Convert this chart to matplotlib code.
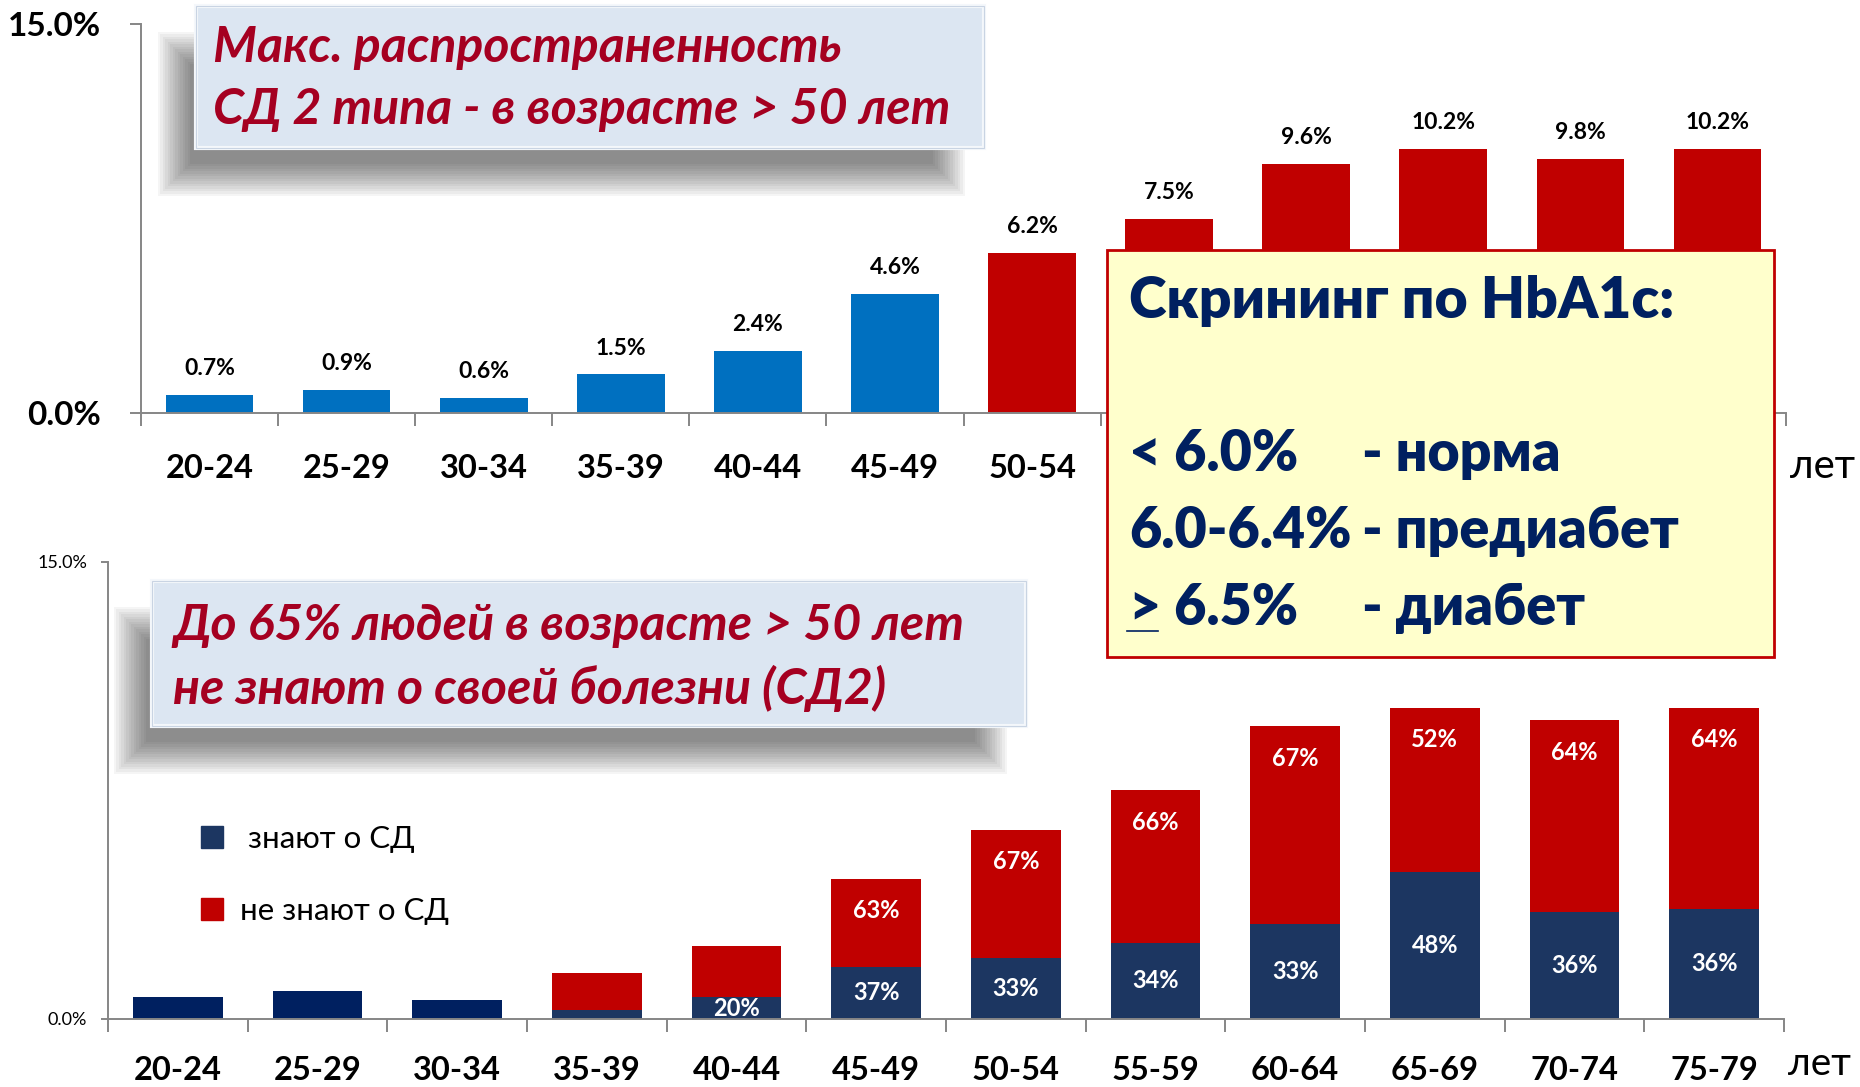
import numpy as np
import matplotlib.pyplot as plt
from matplotlib.patches import Rectangle, Patch

plt.rcParams['font.family'] = ['Lato', 'Open Sans', 'DejaVu Sans']

W, H = 1860, 1087

# data
age_groups = ['20-24', '25-29', '30-34', '35-39', '40-44', '45-49',
              '50-54', '55-59', '60-64', '65-69', '70-74', '75-79']
age_start = [20, 25, 30, 35, 40, 45, 50, 55, 60, 65, 70, 75]
prevalence = [0.7, 0.9, 0.6, 1.5, 2.4, 4.6, 6.2, 7.5, 9.6, 10.2, 9.8, 10.2]
# bottom chart: height of the "know about diabetes" part
known = [0.7, 0.9, 0.6, 0.3, 0.7, 1.7, 2.0, 2.5, 3.1, 4.8, 3.5, 3.6]
known_pct = ['', '', '', '', '20%', '37%', '33%', '34%', '33%', '48%', '36%', '36%']
unknown_pct = ['', '', '', '', '', '63%', '67%', '66%', '67%', '52%', '64%', '64%']

BLUE = '#0070C0'
RED = '#C00000'
NAVY = '#002060'
KNOWN = '#1C3661'
AXIS = '#868686'
DARKRED = '#A50021'

x = np.arange(len(age_groups))
unknown = [p - k for p, k in zip(prevalence, known)]

fig = plt.figure(figsize=(W / 100, H / 100), dpi=100)


def style_axes(ax, ylab_size, ylab_weight, ypad, ylen, xpad):
    ax.set_xlim(-0.5, len(age_groups) - 0.5)
    ax.set_ylim(0, 15)
    for s in ['top', 'right']:
        ax.spines[s].set_visible(False)
    for s in ['left', 'bottom']:
        ax.spines[s].set_color(AXIS)
        ax.spines[s].set_linewidth(1.4)
    ax.set_yticks([0, 15])
    ax.set_yticklabels(['0.0%', '15.0%'], fontsize=ylab_size, fontweight=ylab_weight)
    ax.tick_params(axis='y', length=ylen, width=1.4, color=AXIS, pad=ypad)
    ax.set_xticks(x)
    ax.set_xticklabels(age_groups, fontsize=23.5, fontweight='bold')
    ax.set_xticks(np.arange(-0.5, len(age_groups)), minor=True)
    ax.tick_params(axis='x', which='major', length=0, pad=xpad)
    ax.tick_params(axis='x', which='minor', length=9, width=1.4, color=AXIS)


# top chart: prevalence
ax1 = fig.add_axes([141 / W, 1 - 413.3 / H, (1786 - 141) / W, (413.3 - 24.3) / H])
colors = [BLUE if a < 50 else RED for a in age_start]
ax1.bar(x, prevalence, width=0.64, color=colors)
style_axes(ax1, 24, 'bold', 21, 8, 29)
for i, v in enumerate(prevalence):
    ax1.annotate(f'{v:.1f}%', (i, v), xytext=(0, 19), textcoords='offset points',
                 ha='center', va='center', fontsize=16.5, fontweight='bold')

# bottom chart: know / don't know
ax2 = fig.add_axes([108 / W, 1 - 1018.7 / H, (1784 - 108) / W, (1018.7 - 561.7) / H])
known_colors = [NAVY if a < 35 else KNOWN for a in age_start]
ax2.bar(x, known, width=0.64, color=known_colors)
ax2.bar(x, unknown, bottom=known, width=0.64, color=RED)
style_axes(ax2, 13, 'normal', 10, 5, 27)
for i in range(len(age_groups)):
    if known_pct[i]:
        ax2.text(i, known[i] / 2, known_pct[i], ha='center', va='center',
                 color='white', fontsize=17, fontweight='bold')
    if unknown_pct[i]:
        ax2.annotate(unknown_pct[i], (i, prevalence[i]), xytext=(0, -23),
                     textcoords='offset points', ha='center', va='center',
                     color='white', fontsize=17, fontweight='bold')

ax2.legend([Patch(color=KNOWN), Patch(color=RED)], [' знают о СД', 'не знают о СД'],
           loc='upper left', bbox_to_anchor=(201 / W, 1 - 825 / H),
           bbox_transform=fig.transFigure, frameon=False, fontsize=22.5,
           handlelength=0.7, handleheight=0.7, handletextpad=0.55,
           labelspacing=1.4, borderpad=0, borderaxespad=0)

fig.text(1790 / W, 1 - 467 / H, 'лет', fontsize=29, ha='left', va='center')
fig.text(1788 / W, 1 - 1064 / H, 'лет', fontsize=28, ha='left', va='center')

# overlay in pixel coordinates for the callout boxes
ov = fig.add_axes([0, 0, 1, 1], zorder=5)
ov.set_xlim(0, W)
ov.set_ylim(H, 0)
ov.axis('off')
ov.patch.set_alpha(0)


def soft_shadow(x0, y0, x1, y1, blur=16, n=14, alpha=0.04):
    for k in range(n):
        d = blur - 2 * blur * k / (n - 1)
        ov.add_patch(Rectangle((x0 - d, y0 - d), x1 - x0 + 2 * d, y1 - y0 + 2 * d,
                               facecolor='black', edgecolor='none', alpha=alpha))


def callout(x0, y0, x1, y1, sx, sy):
    soft_shadow(x0 + sx[0], y0 + sy[0], x1 + sx[1], y1 + sy[1])
    ov.add_patch(Rectangle((x0, y0), x1 - x0, y1 - y0, facecolor='#DCE6F2',
                           edgecolor='#F4F7FB', lw=3))
    ov.add_patch(Rectangle((x0, y0), x1 - x0, y1 - y0, facecolor='none',
                           edgecolor='#C9D4E3', lw=0.8))


callout(196, 6, 984, 148, (-22, -35), (42, 32))
ov.text(213, 47, 'Макс. распространенность', fontsize=36, fontweight='bold',
        style='italic', color=DARKRED, va='center', ha='left')
ov.text(213, 109, 'СД 2 типа - в возрасте > 50 лет', fontsize=36, fontweight='bold',
        style='italic', color=DARKRED, va='center', ha='left')

callout(152, 581, 1026, 726, (-22, -35), (42, 32))
ov.text(173, 625, 'До 65% людей в возрасте > 50 лет', fontsize=36, fontweight='bold',
        style='italic', color=DARKRED, va='center', ha='left')
ov.text(173, 688, 'не знают о своей болезни (СД2)', fontsize=36, fontweight='bold',
        style='italic', color=DARKRED, va='center', ha='left')

# HbA1c screening box
ov.add_patch(Rectangle((1107, 250), 1774 - 1107, 657 - 250, facecolor='#FFFFCC',
                       edgecolor=RED, lw=2))
ov.text(1129, 301, 'Скрининг по HbA1c:', fontsize=41, fontweight='heavy',
        color=NAVY, va='center', ha='left')
rows_left = ['< 6.0%', '6.0-6.4%', '> 6.5%']
rows_right = ['- норма', '- предиабет', '- диабет']
for yy, l, r in zip([454, 531, 608], rows_left, rows_right):
    ov.text(1129, yy, l, fontsize=40, fontweight='heavy', color=NAVY, va='center', ha='left')
    ov.text(1362, yy, r, fontsize=40, fontweight='heavy', color=NAVY, va='center', ha='left')
ov.plot([1127, 1158], [631, 631], color=NAVY, lw=1.2)

fig.savefig('out.png', dpi=100)
